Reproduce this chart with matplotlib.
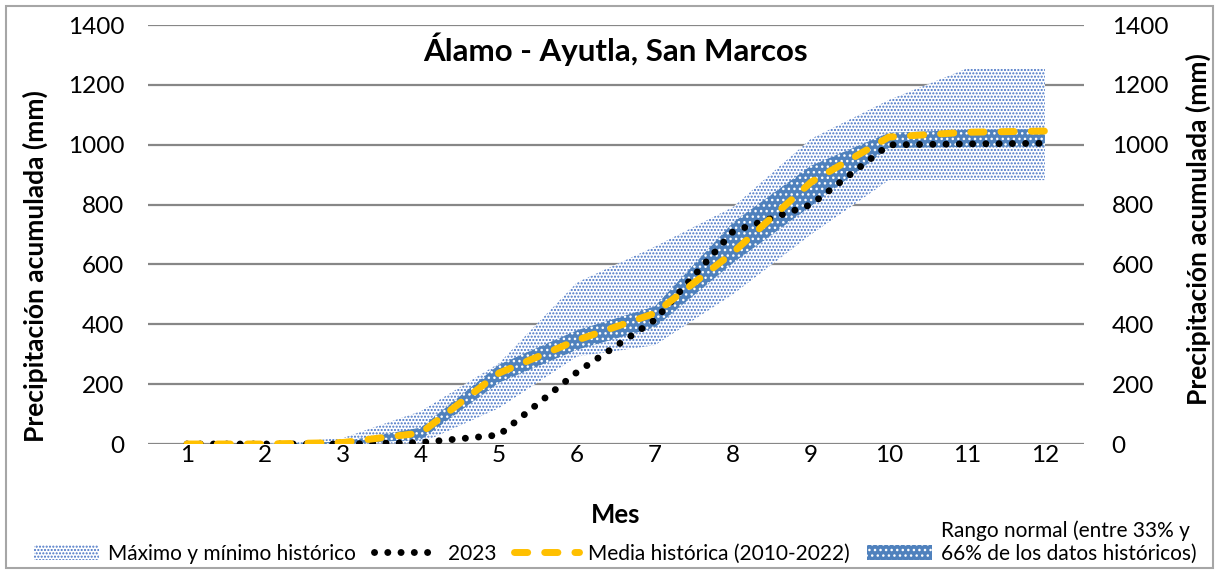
import numpy as np
import matplotlib.pyplot as plt
from matplotlib.patches import Patch, Rectangle
from matplotlib.lines import Line2D

plt.rcParams['font.family'] = ['Lato', 'DejaVu Sans']

# monthly accumulated precipitation (mm)
meses = [1, 2, 3, 4, 5, 6, 7, 8, 9, 10, 11, 12]
maximo = [0, 0, 20, 110, 270, 540, 660, 792, 1020, 1150, 1255, 1255]
minimo = [0, 0, 0, 3, 120, 292, 330, 500, 700, 882, 882, 882]
rango_sup = [0, 0, 8, 55, 265, 380, 460, 740, 930, 1040, 1050, 1052]
rango_inf = [0, 0, 0, 15, 205, 315, 390, 605, 795, 990, 993, 995]
media = [0, 0, 5, 37, 237, 347, 437, 640, 875, 1026, 1042, 1046]
anio_2023 = [0, 0, 0, 5, 30, 240, 415, 710, 800, 1000, 1003, 1005]

azul = '#4472C4'
azul_osc = '#4F81BD'
amarillo = '#FFC000'
gris = '#878787'
estilo_2023 = dict(color='black', lw=5, linestyle=(0, (0.01, 1.9)), dash_capstyle='round')
estilo_media = dict(color=amarillo, lw=5, linestyle=(0, (1.9, 2.45)), dash_capstyle='round')

fig = plt.figure(figsize=(12.19, 5.71), dpi=100)
ax = fig.add_axes([0.1214, 0.2224, 0.7678, 0.7336])

ax.fill_between(meses, minimo, maximo, facecolor='white', edgecolor=azul,
                hatch='.....', linewidth=0, zorder=2)
ax.fill_between(meses, rango_inf, rango_sup, facecolor=azul_osc, edgecolor='white',
                hatch='...', linewidth=0, zorder=3)
ax.plot(meses, anio_2023, zorder=4, **estilo_2023)
ax.plot(meses, media, zorder=5, **estilo_media)

ax.set_xlim(0.5, 12.5)
ax.set_ylim(0, 1400)
ax.set_xticks(meses)
ax.set_yticks(range(0, 1401, 200))
ax.grid(axis='y', color=gris, lw=1.6, zorder=1)
ax.set_axisbelow(True)
for s in ax.spines.values():
    s.set_visible(False)
ax.tick_params(axis='both', length=0, labelsize=17.5)
ax.tick_params(axis='y', pad=17)
ax.tick_params(axis='x', pad=1)

ax2 = ax.twinx()
ax2.set_ylim(0, 1400)
ax2.set_yticks(range(0, 1401, 200))
for s in ax2.spines.values():
    s.set_visible(False)
ax2.tick_params(axis='y', length=0, labelsize=17.5, pad=20)

ax.set_title('Álamo - Ayutla, San Marcos', fontsize=22.5, fontweight='bold',
             y=0.915, pad=0)
ax.set_xlabel('Mes', fontsize=18.5, fontweight='bold', labelpad=26)

# axis titles on both sides (placed like in the original chart)
fig.text(35 / 1219, 1 - 266 / 571, 'Precipitación acumulada (mm)', rotation=90,
         fontsize=19, fontweight='bold', ha='center', va='center')
fig.text(1198 / 1219, 1 - 229 / 571, 'Precipitación acumulada (mm)', rotation=90,
         fontsize=19, fontweight='bold', ha='center', va='center')

handles = [
    Patch(facecolor='white', edgecolor=azul, hatch='.....', linewidth=0),
    Line2D([], [], **estilo_2023),
    Line2D([], [], **estilo_media),
    Patch(facecolor=azul_osc, edgecolor='white', hatch='...', linewidth=0),
]
labels = ['Máximo y mínimo histórico', '2023', 'Media histórica (2010-2022)',
          '66% de los datos históricos)']
leg = fig.legend(handles, labels, loc='lower center', bbox_to_anchor=(0.505, -0.02), ncol=4,
                 frameon=False, fontsize=15, handlelength=3.1, handletextpad=0.45,
                 columnspacing=0.85)

# first line of the last legend label, placed above the second line
fig.canvas.draw()
bb = leg.get_texts()[3].get_window_extent()
fig.text(bb.x0 / fig.bbox.width, bb.y1 / fig.bbox.height + 0.005,
         'Rango normal (entre 33% y', fontsize=15, va='bottom', ha='left')

fig.add_artist(Rectangle((0.005, 0.005), 0.99, 0.985, transform=fig.transFigure,
                         fill=False, edgecolor='#A6A6A6', lw=1.5))

fig.savefig('out.png', dpi=100)
